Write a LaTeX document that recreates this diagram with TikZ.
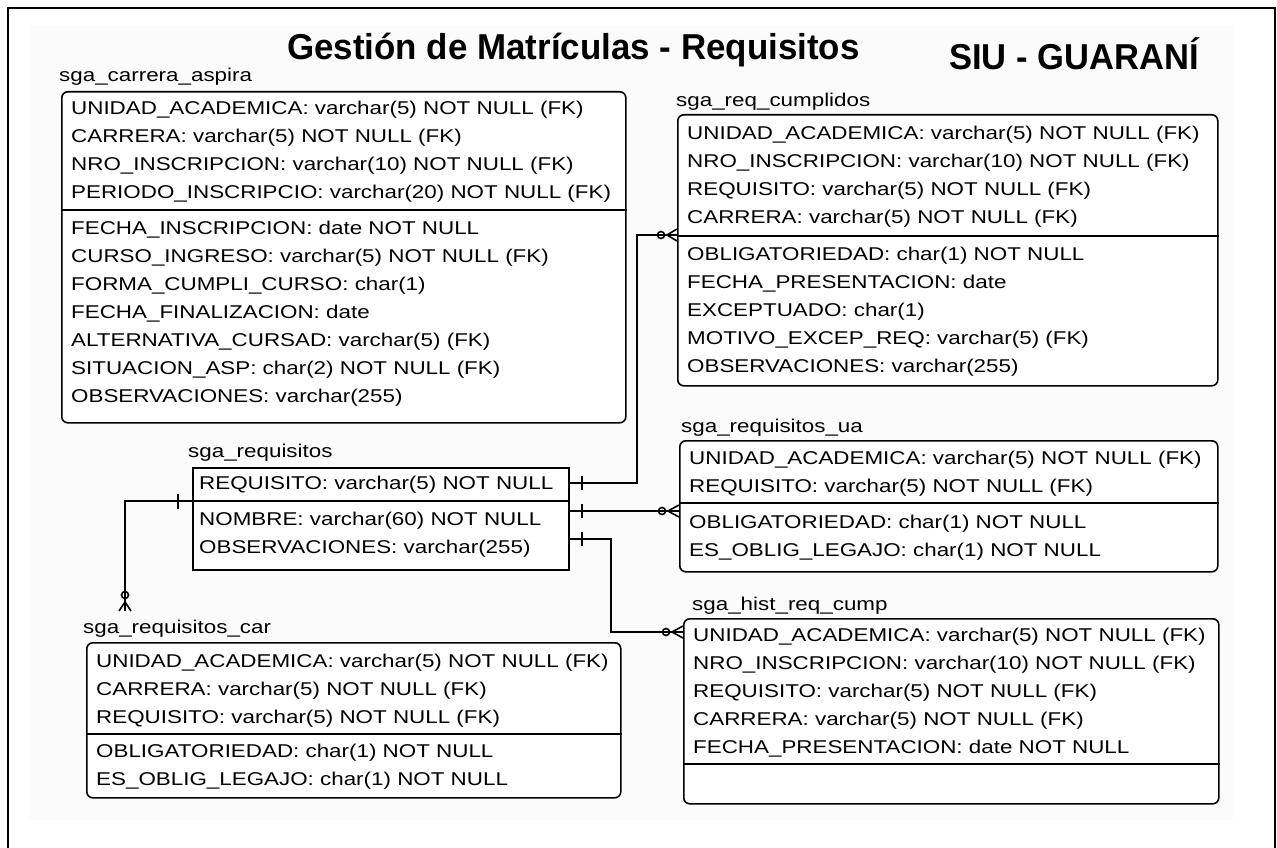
\documentclass[tikz,border=0pt]{standalone}
\usepackage{fontspec}
\setmainfont{Liberation Sans}
\usetikzlibrary{calc}
\newcommand{\rowtx}[1]{\scalebox{1.21}[1]{#1}}
\newcommand{\tblrows}[4]{%
  \foreach \t [count=\i] in {#4} {\node[rowt] (#1-\i) at (#2,{#3+28*(\i-1)}) {\rowtx{\t}};}}
\tikzset{
  tbox/.style={draw, line width=1.6pt, rounded corners=6pt, inner sep=0pt, fill=white, anchor=north west},
  sbox/.style={draw, line width=1.6pt, inner sep=0pt, fill=white, anchor=north west},
  rowt/.style={anchor=base west, inner sep=0pt, font=\fontsize{18.5}{20}\selectfont},
  divl/.style={line width=1.5pt},
  conn/.style={line width=1.6pt},
  ttl/.style={inner sep=0pt, font=\fontsize{36}{40}\selectfont\bfseries}
}
\begin{document}
\begin{tikzpicture}[x=1pt,y=-1pt]
\useasboundingbox (0,0) rectangle (1277,848);
\fill[black!1.5] (30,25) rectangle (1233,820);
\draw[line width=2pt] (8,852) -- (8,8) -- (1275,8) -- (1275,852);

% titles
\node[ttl, anchor=base west] (title) at (287,60) {\scalebox{0.97}[1]{Gestión de Matrículas - Requisitos}};
\node[ttl, anchor=base east] (siu) at (1199,70) {\scalebox{0.96}[1]{SIU - GUARANÍ}};

% sga_carrera_aspira
\node[rowt] (caL) at (59,82) {\rowtx{sga\_carrera\_aspira}};
\node[tbox, minimum width=564pt, minimum height=331pt] (ca) at (61,91) {};
\draw[divl] (ca.west |- 0,210) -- (ca.east |- 0,210);
\tblrows{ca}{71}{114.6}{UNIDAD\_ACADEMICA: varchar(5) NOT NULL (FK),CARRERA: varchar(5) NOT NULL (FK),NRO\_INSCRIPCION: varchar(10) NOT NULL (FK),PERIODO\_INSCRIPCIO: varchar(20) NOT NULL (FK)}
\tblrows{cb}{71}{234.6}{FECHA\_INSCRIPCION: date NOT NULL,CURSO\_INGRESO: varchar(5) NOT NULL (FK),FORMA\_CUMPLI\_CURSO: char(1),FECHA\_FINALIZACION: date,ALTERNATIVA\_CURSAD: varchar(5) (FK),SITUACION\_ASP: char(2) NOT NULL (FK),OBSERVACIONES: varchar(255)}

% sga_req_cumplidos
\node[rowt] (rcL) at (676,107) {\rowtx{sga\_req\_cumplidos}};
\node[tbox, minimum width=540pt, minimum height=271pt] (rc) at (677,114) {};
\draw[divl] (rc.west |- 0,236) -- (rc.east |- 0,236);
\tblrows{rc}{687}{139.6}{UNIDAD\_ACADEMICA: varchar(5) NOT NULL (FK),NRO\_INSCRIPCION: varchar(10) NOT NULL (FK),REQUISITO: varchar(5) NOT NULL (FK),CARRERA: varchar(5) NOT NULL (FK)}
\tblrows{rd}{687}{260.6}{OBLIGATORIEDAD: char(1) NOT NULL,FECHA\_PRESENTACION: date,EXCEPTUADO: char(1),MOTIVO\_EXCEP\_REQ: varchar(5) (FK),OBSERVACIONES: varchar(255)}

% sga_requisitos
\node[rowt] (rqL) at (188,457) {\rowtx{sga\_requisitos}};
\node[sbox, minimum width=376pt, minimum height=102pt] (rq) at (192,467) {};
\draw[divl] (rq.west |- 0,501) -- (rq.east |- 0,501);
\tblrows{rq}{199}{489.6}{REQUISITO: varchar(5) NOT NULL}
\tblrows{rr}{199}{525.6}{NOMBRE: varchar(60) NOT NULL,OBSERVACIONES: varchar(255)}

% sga_requisitos_ua
\node[rowt] (uaL) at (681,432) {\rowtx{sga\_requisitos\_ua}};
\node[tbox, minimum width=538pt, minimum height=131pt] (ua) at (679,440) {};
\draw[divl] (ua.west |- 0,503) -- (ua.east |- 0,503);
\tblrows{ua}{689}{464.6}{UNIDAD\_ACADEMICA: varchar(5) NOT NULL (FK),REQUISITO: varchar(5) NOT NULL (FK)}
\tblrows{ub}{689}{528.6}{OBLIGATORIEDAD: char(1) NOT NULL,ES\_OBLIG\_LEGAJO: char(1) NOT NULL}

% sga_hist_req_cump
\node[rowt] (hcL) at (692,610) {\rowtx{sga\_hist\_req\_cump}};
\node[tbox, minimum width=535pt, minimum height=185pt] (hc) at (683,618) {};
\draw[divl] (hc.west |- 0,764) -- (hc.east |- 0,764);
\tblrows{hc}{693}{641.6}{UNIDAD\_ACADEMICA: varchar(5) NOT NULL (FK),NRO\_INSCRIPCION: varchar(10) NOT NULL (FK),REQUISITO: varchar(5) NOT NULL (FK),CARRERA: varchar(5) NOT NULL (FK),FECHA\_PRESENTACION: date NOT NULL}

% sga_requisitos_car
\node[rowt] (carL) at (83,633) {\rowtx{sga\_requisitos\_car}};
\node[tbox, minimum width=534pt, minimum height=155pt] (car) at (86,642) {};
\draw[divl] (car.west |- 0,734) -- (car.east |- 0,734);
\tblrows{car}{96}{667.6}{UNIDAD\_ACADEMICA: varchar(5) NOT NULL (FK),CARRERA: varchar(5) NOT NULL (FK),REQUISITO: varchar(5) NOT NULL (FK)}
\tblrows{cas}{96}{757.6}{OBLIGATORIEDAD: char(1) NOT NULL,ES\_OBLIG\_LEGAJO: char(1) NOT NULL}

% connector 1: sga_requisitos -> sga_req_cumplidos
\draw[conn] (rq.east |- 0,483) -- (637,483) |- (rc.west |- 0,235);
\draw[conn] (582,476) -- (582,490);
\draw[conn] (661,235) circle (3.5);
\draw[conn] (667,235) -- (rc.west |- 0,229) (667,235) -- (rc.west |- 0,241);

% connector 2: sga_requisitos -> sga_requisitos_ua
\draw[conn] (rq.east |- 0,511) -- (ua.west |- 0,511);
\draw[conn] (582,504) -- (582,518);
\draw[conn] (662,511) circle (3.5);
\draw[conn] (668,511) -- (ua.west |- 0,505) (668,511) -- (ua.west |- 0,517);

% connector 3: sga_requisitos -> sga_hist_req_cump
\draw[conn] (rq.east |- 0,539) -- (611,539) |- (hc.west |- 0,632);
\draw[conn] (582,532) -- (582,546);
\draw[conn] (666,632) circle (3.5);
\draw[conn] (672,632) -- (hc.west |- 0,626) (672,632) -- (hc.west |- 0,638);

% connector 4: sga_requisitos -> sga_requisitos_car
\coordinate (carEnd) at (125,611);
\draw[conn] (rq.west |- 0,501) -| (carEnd);
\draw[conn] (178,494) -- (178,509);
\draw[conn] (125,595) circle (3.5);
\draw[conn] (125,602) -- (119,611) (125,602) -- (131,611);
\end{tikzpicture}
\end{document}
